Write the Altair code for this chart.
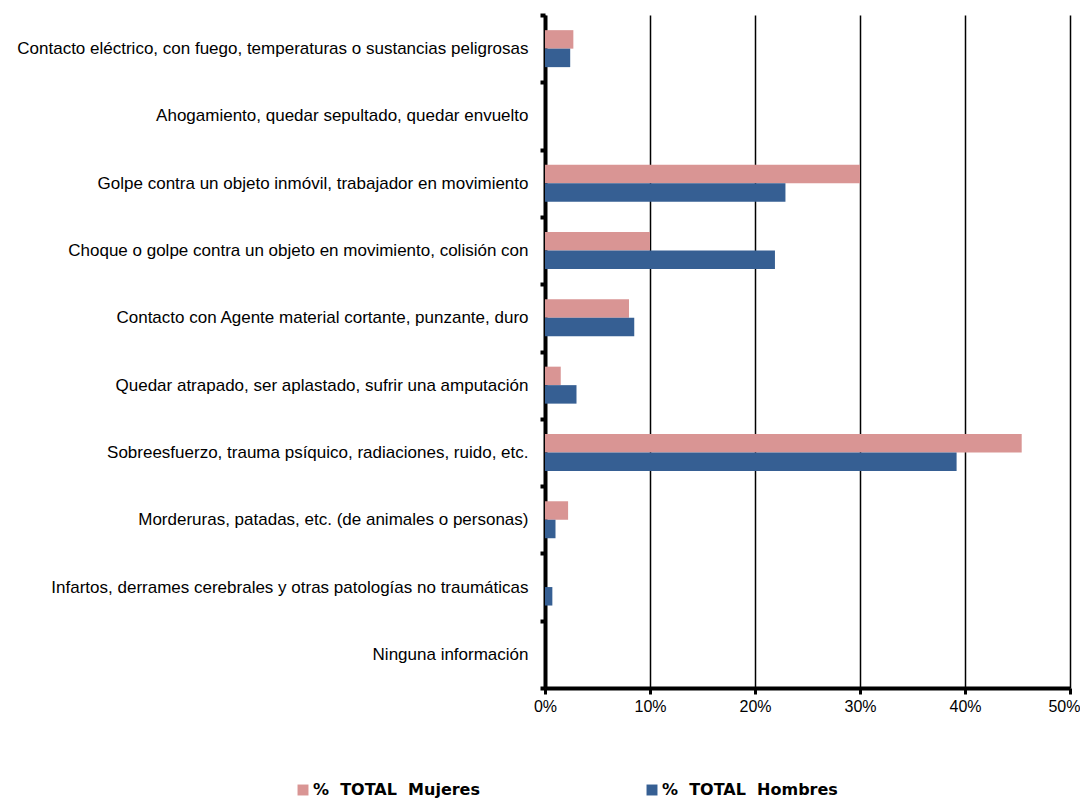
import altair as alt
import pandas as pd

categories = [
    "Contacto eléctrico, con fuego, temperaturas o sustancias peligrosas",
    "Ahogamiento, quedar sepultado, quedar envuelto",
    "Golpe contra un objeto inmóvil, trabajador en movimiento",
    "Choque o golpe contra un objeto en movimiento, colisión con",
    "Contacto con Agente material cortante, punzante, duro",
    "Quedar atrapado, ser aplastado, sufrir una amputación",
    "Sobreesfuerzo, trauma psíquico, radiaciones, ruido, etc.",
    "Morderuras, patadas, etc. (de animales o personas)",
    "Infartos, derrames cerebrales y otras patologías no traumáticas",
    "Ninguna información",
]
mujeres = [2.7, 0.0, 30.0, 10.0, 8.0, 1.5, 45.4, 2.2, 0.0, 0.0]
hombres = [2.4, 0.0, 22.9, 21.9, 8.5, 3.0, 39.2, 1.0, 0.7, 0.0]
series = ["%\u00a0 TOTAL\u00a0 Mujeres", "%\u00a0 TOTAL\u00a0 Hombres"]
colors = ["#D99594", "#365F93"]
x_ticks = [0, 0.1, 0.2, 0.3, 0.4, 0.5]

rows = []
for c, m, h in zip(categories, mujeres, hombres):
    rows.append({"cat": c, "serie": series[0], "valor": m / 100})
    rows.append({"cat": c, "serie": series[1], "valor": h / 100})
df = pd.DataFrame(rows)

chart = alt.Chart(df).mark_bar().encode(
    y=alt.Y(
        "cat:N",
        sort=categories,
        scale=alt.Scale(paddingInner=0, paddingOuter=0),
        axis=alt.Axis(
            title=None,
            tickBand="extent",
            labelFont="Liberation Sans",
            labelFontSize=17,
            labelColor="#000000",
            labelPadding=12,
            labelLimit=700,
            tickSize=5,
            tickWidth=4,
            tickColor="#000000",
            domainColor="#000000",
            domainWidth=4,
        ),
    ),
    yOffset=alt.YOffset(
        "serie:N",
        sort=series,
        scale=alt.Scale(paddingOuter=0.82, paddingInner=0),
    ),
    x=alt.X(
        "valor:Q",
        scale=alt.Scale(domain=[0, 0.5], nice=False),
        axis=alt.Axis(
            title=None,
            format=".0%",
            values=x_ticks,
            grid=True,
            gridColor="#000000",
            gridWidth=1.5,
            gridOpacity=1,
            tickSize=6,
            tickWidth=3,
            tickColor="#000000",
            domainColor="#000000",
            domainWidth=4,
            labelFont="Liberation Sans",
            labelFontSize=16,
            labelColor="#000000",
            labelPadding=4,
            labelFlush=False,
            labelAlign={"condition": {"test": "datum.value >= 0.5", "value": "right"}, "value": "center"},
            labelOffset={"condition": {"test": "datum.value >= 0.5", "value": 10}, "value": 0},
        ),
    ),
    color=alt.Color(
        "serie:N",
        sort=series,
        scale=alt.Scale(domain=series, range=colors),
        legend=alt.Legend(
            title=None,
            orient="none",
            direction="horizontal",
            legendX=-250,
            legendY=767,
            symbolType="square",
            symbolSize=120,
            symbolStrokeWidth=0,
            symbolOpacity=1,
            labelFont="DejaVu Sans",
            labelFontWeight="bold",
            labelFontSize=16,
            labelColor="#000000",
            labelOffset=2,
            columnPadding=164,
            labelLimit=400,
        ),
    ),
).properties(
    width=525,
    height=673,
    autosize="none",
    padding={"left": 537, "top": 7, "right": 10, "bottom": 112},
).configure_view(strokeWidth=0)

chart.save("out.html", embed_options={"renderer": "svg", "actions": False})
